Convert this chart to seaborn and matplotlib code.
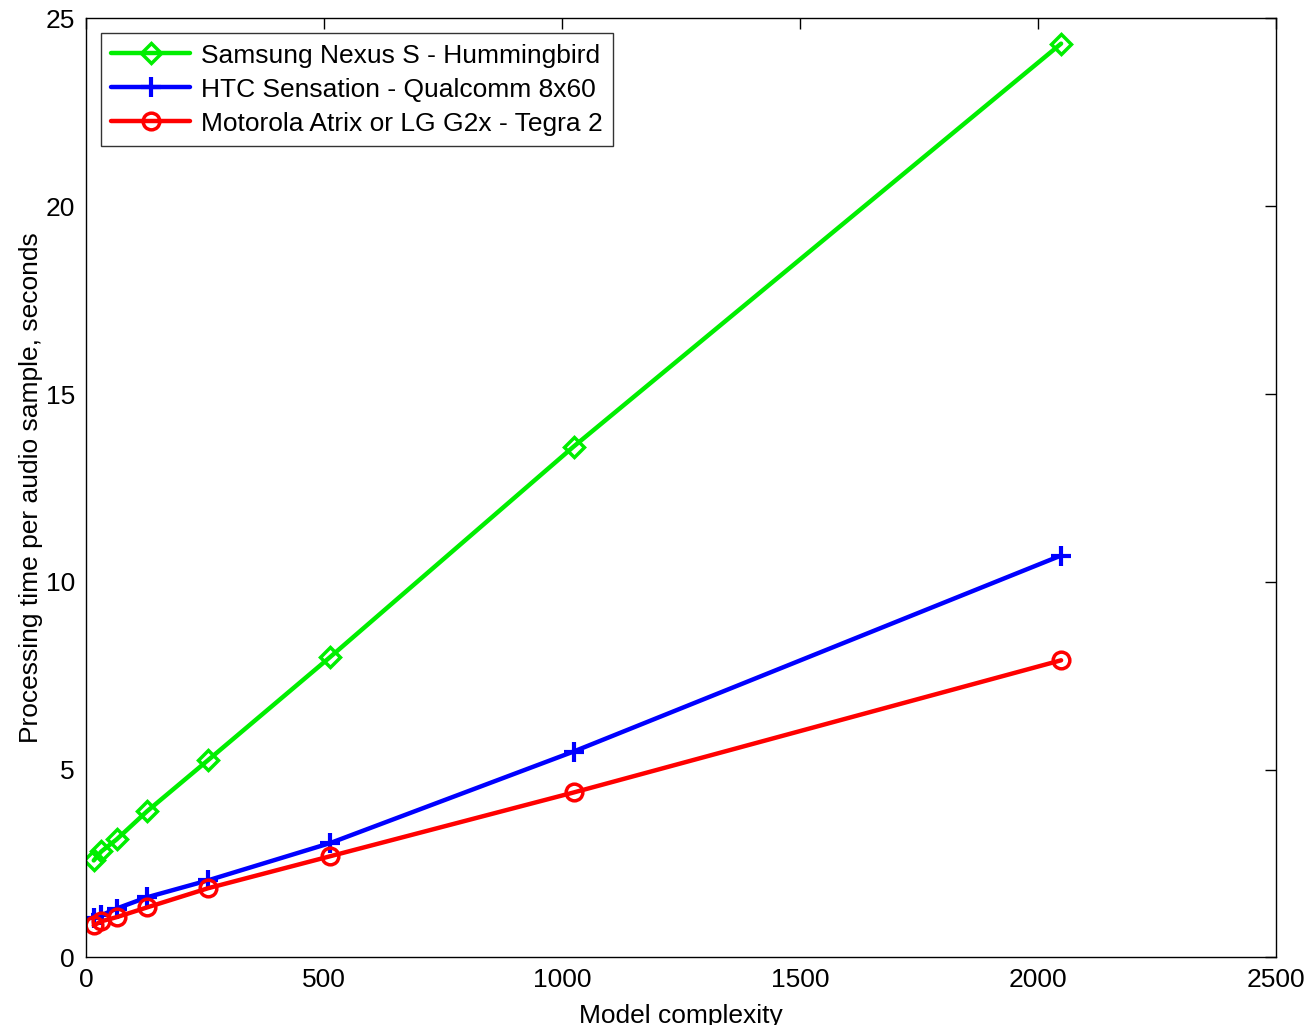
import pandas as pd
import seaborn as sns
import matplotlib.pyplot as plt

complexity = [16, 32, 64, 128, 256, 512, 1024, 2048]
nexus = [2.58, 2.82, 3.14, 3.89, 5.25, 7.99, 13.6, 24.33]
htc = [1.04, 1.12, 1.30, 1.60, 2.05, 3.04, 5.48, 10.70]
tegra = [0.85, 0.96, 1.07, 1.33, 1.84, 2.69, 4.39, 7.91]

names = ['Samsung Nexus S - Hummingbird',
         'HTC Sensation - Qualcomm 8x60',
         'Motorola Atrix or LG G2x - Tegra 2']

df = pd.concat([
    pd.DataFrame({'x': complexity, 'y': vals, 'device': n})
    for vals, n in zip([nexus, htc, tegra], names)
])

sns.set_style('white')
plt.rcParams['font.family'] = ['Liberation Sans', 'DejaVu Sans']
plt.rcParams['text.color'] = 'black'
plt.rcParams['axes.labelcolor'] = 'black'

fig, ax = plt.subplots(figsize=(13.05, 10.25), dpi=100)
fig.subplots_adjust(left=0.066, right=0.978, top=0.982, bottom=0.066)

colors = ['#00ee00', '#0000ff', '#ff0000']
markers = ['D', '+', 'o']
for n, c, m in zip(names, colors, markers):
    sub = df[df['device'] == n]
    if m == '+':
        kw = dict(markersize=14, markeredgewidth=3)
    elif m == 'D':
        kw = dict(markersize=10, markerfacecolor='none', markeredgewidth=2.5)
    else:
        kw = dict(markersize=12, markerfacecolor='none', markeredgewidth=2.5)
    sns.lineplot(data=sub, x='x', y='y', ax=ax, color=c, linewidth=3.2,
                 marker=m, markeredgecolor=c, label=n, **kw)

ax.set_xlim(0, 2500)
ax.set_ylim(0, 25)
ax.set_xticks(range(0, 2501, 500))
ax.set_yticks(range(0, 26, 5))
ax.tick_params(direction='in', top=True, right=True, length=8, width=1,
               labelsize=19, pad=8, colors='black')
for s in ax.spines.values():
    s.set_color('black')
    s.set_linewidth(1)
ax.set_xlabel('Model complexity', fontsize=19, labelpad=8)
ax.set_ylabel('Processing time per audio sample, seconds', fontsize=19, labelpad=2)

leg = ax.legend(loc='upper left', fontsize=19, frameon=True, fancybox=False,
                edgecolor='black', borderaxespad=0.55, handlelength=3.0,
                labelspacing=0.38, handletextpad=0.4, borderpad=0.4)
leg.get_frame().set_linewidth(1)

fig.savefig('out.png')
